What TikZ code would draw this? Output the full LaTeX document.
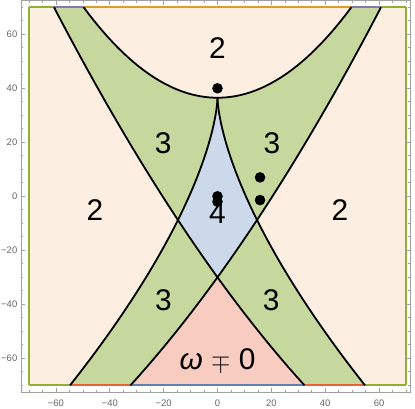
\documentclass[tikz,border=0pt]{standalone}
\usepackage{fontspec}
\setmainfont{Liberation Sans}
\definecolor{beigef}{RGB}{252,238,224}
\definecolor{greenf}{RGB}{198,216,157}
\definecolor{bluef}{RGB}{204,217,234}
\definecolor{pinkf}{RGB}{248,204,192}
\definecolor{mgreen}{RGB}{143,176,50}
\definecolor{mpurple}{RGB}{135,120,179}
\definecolor{morange}{RGB}{225,156,36}
\definecolor{mred}{RGB}{235,98,53}
\definecolor{mblue}{RGB}{94,129,181}
\definecolor{framec}{RGB}{160,160,160}
\begin{document}
\begin{tikzpicture}[x=2.693bp,y=2.7bp,
  declare function={Q(\x)=-30-1.3805*\x+0.0044*\x*\x; P(\x)=-30+1.3805*\x+0.0044*\x*\x; Pa(\x)=36.5+0.01356*\x*\x; R(\t)=0.04154*(36.5001-\t)^1.539;},
  curve/.style={line width=1.8bp, black, line join=round},
  edgeline/.style={line width=2bp},
  lab/.style={font=\fontsize{30}{30}\selectfont, inner sep=0pt},
  tlab/.style={font=\fontsize{9.5}{10}\selectfont, text=black!60, inner sep=1pt},
  tickline/.style={framec, line width=0.6bp},
  blackdot/.style={fill=black}]
\useasboundingbox (-80.76,-78.78) rectangle (73.34,72.70);
% fills
\fill[beigef] (-70,-70) rectangle (70,70);
\fill[greenf] (-60.7,70) -- (-49.7,70) -- plot[domain=-49.7:0,samples=50] (\x,{Pa(\x)}) -- plot[variable=\t,domain=36.5:-8.78,samples=80] ({-R(\t)},\t) -- plot[domain=-14.68:-60.7,samples=50] (\x,{Q(\x)}) -- cycle;
\fill[greenf] (60.7,70) -- (49.7,70) -- plot[domain=49.7:0,samples=50] (\x,{Pa(\x)}) -- plot[variable=\t,domain=36.5:-8.78,samples=80] ({R(\t)},\t) -- plot[domain=14.68:60.7,samples=50] (\x,{P(\x)}) -- cycle;
\fill[greenf] plot[variable=\t,domain=-8.78:-70,samples=60] ({-R(\t)},\t) -- (-32.3,-70) -- plot[domain=-32.3:0,samples=40] (\x,{P(\x)}) -- plot[domain=0:-14.68,samples=30] (\x,{Q(\x)}) -- cycle;
\fill[greenf] plot[variable=\t,domain=-8.78:-70,samples=60] ({R(\t)},\t) -- (32.3,-70) -- plot[domain=32.3:0,samples=40] (\x,{Q(\x)}) -- plot[domain=0:14.68,samples=30] (\x,{P(\x)}) -- cycle;
\fill[bluef] plot[variable=\t,domain=-8.78:36.5,samples=80] ({-R(\t)},\t) -- plot[variable=\t,domain=36.5:-8.78,samples=80] ({R(\t)},\t) -- plot[domain=14.68:0,samples=30] (\x,{P(\x)}) -- plot[domain=0:-14.68,samples=30] (\x,{Q(\x)}) -- cycle;
\fill[pinkf] (0,-30) -- plot[domain=0:-32.3,samples=40] (\x,{P(\x)}) -- plot[domain=32.3:0,samples=40] (\x,{Q(\x)}) -- cycle;
% region boundary edges
\draw[edgeline,mgreen] (-70,-70) -- (-70,70);
\draw[edgeline,mgreen] (70,-70) -- (70,70);
\draw[edgeline,mgreen] (-70,70) -- (-60.7,70);
\draw[edgeline,mpurple] (-60.7,70) -- (-49.7,70);
\draw[edgeline,morange] (-49.7,70) -- (49.7,70);
\draw[edgeline,mpurple] (49.7,70) -- (60.7,70);
\draw[edgeline,mgreen] (60.7,70) -- (70,70);
\draw[edgeline,mgreen] (-70,-70) -- (-54.76,-70);
\draw[edgeline,mred] (-54.76,-70) -- (-32.3,-70);
\draw[edgeline,mblue] (-32.3,-70) -- (32.3,-70);
\draw[edgeline,mred] (32.3,-70) -- (54.76,-70);
\draw[edgeline,mgreen] (54.76,-70) -- (70,-70);
% curves
\draw[curve] plot[domain=-60.7:32.3,samples=100] (\x,{Q(\x)});
\draw[curve] plot[domain=-32.3:60.7,samples=100] (\x,{P(\x)});
\draw[curve] plot[domain=-49.7:49.7,samples=100] (\x,{Pa(\x)});
\draw[curve] plot[variable=\t,domain=-70:36.5,samples=120] ({-R(\t)},\t);
\draw[curve] plot[variable=\t,domain=-70:36.5,samples=120] ({R(\t)},\t);
% frame and ticks
\draw[tickline] (-73,-72.5) rectangle (71.6,72.5);
\foreach \v in {-70,-65,...,70}{
  \pgfmathparse{mod(\v,20)==0 ? 1.5 : 0.9}\let\L\pgfmathresult
  \draw[tickline] (\v,-72.5) -- ++(0,\L);
  \draw[tickline] (\v,72.5) -- ++(0,-\L);
  \draw[tickline] (-73,\v) -- ++(\L,0);
  \draw[tickline] (71.6,\v) -- ++(-\L,0);
}
\foreach \v/\s in {-60/−60,-40/−40,-20/−20,0/0,20/20,40/40,60/60}{
  \node[tlab] (xl\v) at (\v,-76.6) {\s};
  \node[tlab,anchor=east] (yl\v) at (-73.9,\v) {\s};
}
% region labels
\node[lab] (rtop) at (0,54.9) {2};
\node[lab] (rleft) at (-45.5,-5.1) {2};
\node[lab] (rright) at (45.5,-5.1) {2};
\node[lab] (rtl) at (-20.2,19.7) {3};
\node[lab] (rtr) at (20.2,19.7) {3};
\node[lab] (rbl) at (-20.1,-38.4) {3};
\node[lab] (rbr) at (19.9,-38.4) {3};
\node[lab] (rmid) at (0,-6.2) {4};
\node[lab] (rbot) at (0,-60.6) {\textit{ω} $\mp$ 0};
% dots
\fill[blackdot] (0,40) circle[radius=5.3bp];
\fill[blackdot] (15.8,7) circle[radius=5.3bp];
\fill[blackdot] (15.8,-1.4) circle[radius=5.3bp];
\fill[blackdot] (0,0) circle[radius=5.3bp];
\fill[blackdot] (0,-2) circle[radius=5.3bp];
\end{tikzpicture}
\end{document}
